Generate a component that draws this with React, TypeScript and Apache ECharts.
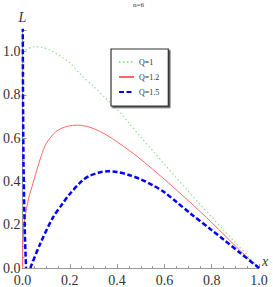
import React, { useEffect, useRef } from "react";
import * as echarts from "echarts";

const titleText = "n=6";

const q1X = [0, 0.02, 0.05, 0.08, 0.12, 0.17, 0.2, 0.25, 0.3, 0.35, 0.4, 0.45, 0.5, 0.55, 0.6, 0.65, 0.7, 0.75, 0.8, 0.85, 0.9, 0.95, 1.0];
const q1L = [0.995, 1.012, 1.022, 1.02, 1.005, 0.972, 0.948, 0.89, 0.84, 0.786, 0.733, 0.67, 0.605, 0.543, 0.48, 0.418, 0.356, 0.295, 0.236, 0.176, 0.118, 0.059, 0];

const q12X = [0, 0.001, 0.004, 0.01, 0.025, 0.04, 0.06, 0.08, 0.1, 0.143, 0.19, 0.233, 0.28, 0.33, 0.38, 0.43, 0.48, 0.53, 0.6, 0.7125, 0.8, 0.921, 1.0];
const q12L = [0, 0.08, 0.17, 0.23, 0.318, 0.375, 0.45, 0.52, 0.575, 0.632, 0.655, 0.66, 0.652, 0.63, 0.598, 0.56, 0.52, 0.475, 0.41, 0.3, 0.21, 0.08, 0];

const q15aX = [0.001, 0.002, 0.004, 0.007, 0.011, 0.015];
const q15aL = [1.15, 0.8, 0.5, 0.3, 0.12, 0];

const q15bX = [0.033, 0.074, 0.129, 0.171, 0.199, 0.254, 0.282, 0.32, 0.36, 0.4, 0.45, 0.5, 0.55, 0.6, 0.65, 0.7125, 0.8, 0.85, 0.921, 1.0];
const q15bL = [0, 0.11, 0.234, 0.3, 0.341, 0.405, 0.425, 0.44, 0.447, 0.444, 0.43, 0.41, 0.383, 0.35, 0.306, 0.25, 0.175, 0.132, 0.069, 0];

const zip = (xs: number[], ys: number[]) => xs.map((x, i) => [x, ys[i]]);

const SERIF = "'Liberation Serif', 'DejaVu Serif', serif";

export default function App() {
  const ref = useRef<HTMLDivElement>(null);
  useEffect(() => {
    if (!ref.current) return;
    const chart = echarts.init(ref.current, undefined, { renderer: "svg" });
    const axisCommon = {
      axisLine: { show: true, onZero: false, lineStyle: { color: "#999", width: 1 } },
      axisTick: { show: true, inside: true, length: 4, lineStyle: { color: "#999" } },
      minorTick: { show: true, splitNumber: 4, length: 2, lineStyle: { color: "#999" } },
      splitLine: { show: false },
      axisLabel: {
        fontFamily: SERIF,
        fontSize: 14,
        color: "#333",
        formatter: (v: number) => v.toFixed(1),
      },
    };
    chart.setOption({
      animation: false,
      title: {
        text: titleText,
        left: 133,
        top: 1,
        padding: 0,
        textStyle: { fontFamily: SERIF, fontSize: 7, fontWeight: "normal", color: "#333" },
      },
      grid: { left: 19, right: 14, top: 30, bottom: 18, containLabel: false },
      xAxis: {
        type: "value",
        min: 0,
        max: 1,
        interval: 0.2,
        name: "x",
        nameLocation: "end",
        nameGap: 3,
        nameTextStyle: { fontFamily: SERIF, fontStyle: "italic", fontSize: 14, color: "#333", verticalAlign: "bottom", padding: [0, 0, 0, 0] },
        ...axisCommon,
        axisLabel: { ...axisCommon.axisLabel, margin: 5 },
      },
      yAxis: {
        type: "value",
        min: 0,
        max: 1.1,
        interval: 0.2,
        name: "L",
        nameLocation: "end",
        nameGap: 6,
        nameTextStyle: { fontFamily: SERIF, fontStyle: "italic", fontSize: 14, color: "#333", align: "center" },
        ...axisCommon,
        axisLabel: { ...axisCommon.axisLabel, margin: 2, showMaxLabel: false },
      },
      legend: {
        orient: "vertical",
        left: 111,
        top: 49,
        padding: [9, 9, 10, 7],
        itemWidth: 15,
        itemHeight: 8,
        itemGap: 7,
        backgroundColor: "#fff",
        borderColor: "#333",
        borderWidth: 1.2,
        shadowColor: "rgba(40,40,40,0.8)",
        shadowOffsetX: 1.5,
        shadowOffsetY: 1.5,
        shadowBlur: 0,
        itemStyle: { opacity: 0 },
        textStyle: { fontFamily: SERIF, fontSize: 8, color: "#333" },
        data: ["Q=1", "Q=1.2", "Q=1.5"],
      },
      series: [
        {
          name: "Q=1",
          type: "line",
          data: zip(q1X, q1L),
          symbol: "none",
          smooth: 0.3,
          lineStyle: { color: "#8fe88f", width: 1.2, type: [1.5, 2.5] },
          itemStyle: { color: "#8fe88f" },
        },
        {
          name: "Q=1.2",
          type: "line",
          data: zip(q12X, q12L),
          symbol: "none",
          smooth: 0.3,
          lineStyle: { color: "#ff6666", width: 1, type: "solid" },
          itemStyle: { color: "#ff6666" },
        },
        {
          name: "Q=1.5",
          type: "line",
          data: zip(q15aX, q15aL),
          symbol: "none",
          clip: true,
          lineStyle: { color: "#0000ff", width: 2.5, type: [5, 2.5] },
          itemStyle: { color: "#0000ff" },
        },
        {
          name: "Q=1.5",
          type: "line",
          data: zip(q15bX, q15bL),
          symbol: "none",
          smooth: 0.3,
          lineStyle: { color: "#0000ff", width: 2.5, type: [5, 2.5] },
          itemStyle: { color: "#0000ff" },
        },
      ],
    });
    return () => chart.dispose();
  }, []);
  return (
    <div
      ref={ref}
      style={{ position: "absolute", left: 0, top: 0, width: 273, height: 287, background: "#fff" }}
    />
  );
}
